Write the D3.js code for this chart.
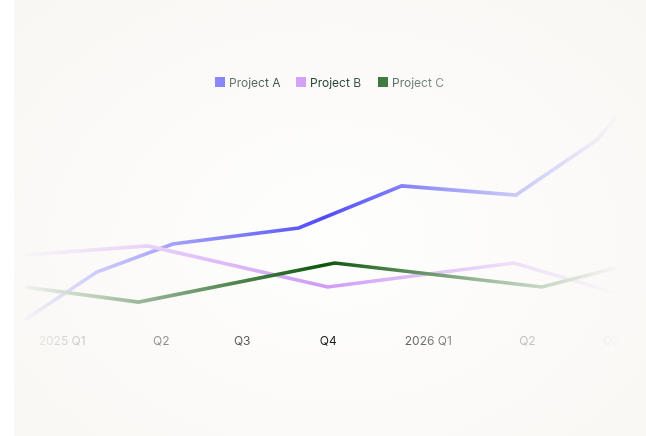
<!DOCTYPE html>
<html>
<head>
<meta charset="utf-8">
<title>Projects by quarter</title>
<script src="https://cdn.jsdelivr.net/npm/d3@7/dist/d3.min.js"></script>
<style>
html, body {
  margin: 0;
  padding: 0;
  background: #fff;
  overflow: hidden;
}
#card {
  position: absolute;
  left: 14px;
  top: 0;
  width: 640px;
  height: 436px;
  background: radial-gradient(ellipse at 50% 55%, #fefefd 0%, #fbfaf8 55%, #f8f7f3 100%);
}
svg {
  position: absolute;
  left: 0;
  top: 0;
  font-family: Inter, "Noto Sans", sans-serif;
}
</style>
</head>
<body>
<div id="card"></div>
<svg id="chart" width="646" height="436"></svg>
<script>
// quarter tick labels and where they sit (months from Jan 2025)
var tickLabels = ["2025 Q1", "Q2", "Q3", "Q4", "2026 Q1", "Q2", "Q3"];
var tickMonths = [0, 3.25, 5.9, 8.72, 12, 15.25, 18];

var seriesNames = ["Project A", "Project B", "Project C"];
var seriesColors = ["#4f4cf8", "#cf9bf7", "#0b560b"];

// each series: months and values
var monthsA = [-1.21, 1.15, 3.64, 7.77, 11.15, 14.89, 17.54, 18.16];
var valuesA = [8.3, 28.3, 40, 46.7, 64.2, 60.4, 83.3, 92.5];
var monthsB = [-1.21, 2.82, 8.72, 14.82, 18.16];
var valuesB = [35.4, 39.2, 22.1, 32.1, 19.6];
var monthsC = [-1.21, 2.52, 8.95, 15.74, 18.16];
var valuesC = [22.1, 15.8, 32.1, 22.1, 30];

var series = [
  {name: seriesNames[0], color: seriesColors[0], pts: d3.zip(monthsA, valuesA)},
  {name: seriesNames[1], color: seriesColors[1], pts: d3.zip(monthsB, valuesB)},
  {name: seriesNames[2], color: seriesColors[2], pts: d3.zip(monthsC, valuesC)}
];

var svg = d3.select("#chart");

var x = d3.scaleLinear().domain([-1.3, 18.3]).range([22, 620]);
var y = d3.scaleLinear().domain([0, 100]).range([340, 100]);

// horizontal fade: everything fades toward both sides of the card
var defs = svg.append("defs");
var grad = defs.append("linearGradient")
    .attr("id", "fade")
    .attr("gradientUnits", "userSpaceOnUse")
    .attr("x1", 14).attr("x2", 622).attr("y1", 0).attr("y2", 0);
grad.append("stop").attr("offset", "0%").attr("stop-color", "#fff").attr("stop-opacity", 0);
grad.append("stop").attr("offset", "51%").attr("stop-color", "#fff").attr("stop-opacity", 1);
grad.append("stop").attr("offset", "80%").attr("stop-color", "#fff").attr("stop-opacity", 0.33);
grad.append("stop").attr("offset", "100%").attr("stop-color", "#fff").attr("stop-opacity", 0);

defs.append("mask")
    .attr("id", "fadeMask")
    .attr("maskUnits", "userSpaceOnUse")
    .attr("x", 0).attr("y", 0).attr("width", 646).attr("height", 436)
  .append("rect")
    .attr("x", 0).attr("y", 0).attr("width", 646).attr("height", 436)
    .attr("fill", "url(#fade)");

var g = svg.append("g").attr("mask", "url(#fadeMask)");

// legend
var legendX = [215, 296, 378];
var legend = g.append("g").selectAll("g")
    .data(series)
    .enter().append("g")
    .attr("transform", function(d, i) { return "translate(" + legendX[i] + ",77)"; });
legend.append("rect")
    .attr("width", 10).attr("height", 10)
    .attr("fill", function(d) { return d.color; });
legend.append("text")
    .attr("x", 14).attr("y", 9.5)
    .style("font-size", "12px")
    .attr("fill", "#1d3b2b")
    .text(function(d) { return d.name; });

// lines
var line = d3.line()
    .x(function(d) { return x(d[0]); })
    .y(function(d) { return y(d[1]); });

g.append("g").selectAll("path")
    .data(series)
    .enter().append("path")
    .attr("d", function(d) { return line(d.pts); })
    .attr("fill", "none")
    .attr("stroke", function(d) { return d.color; })
    .attr("stroke-width", 3.6)
    .attr("stroke-linejoin", "miter");

// x axis labels
var xAxis = d3.axisBottom(x)
    .tickValues(tickMonths)
    .tickFormat(function(d, i) { return tickLabels[i]; })
    .tickSize(0)
    .tickPadding(0);

var ax = g.append("g")
    .attr("transform", "translate(0,336)")
    .call(xAxis);
ax.select(".domain").remove();
ax.selectAll("text")
    .attr("fill", "#1a1a1a")
    .style("font-size", "12px")
    .style("font-family", "Inter, 'Noto Sans', sans-serif");
</script>
</body>
</html>
